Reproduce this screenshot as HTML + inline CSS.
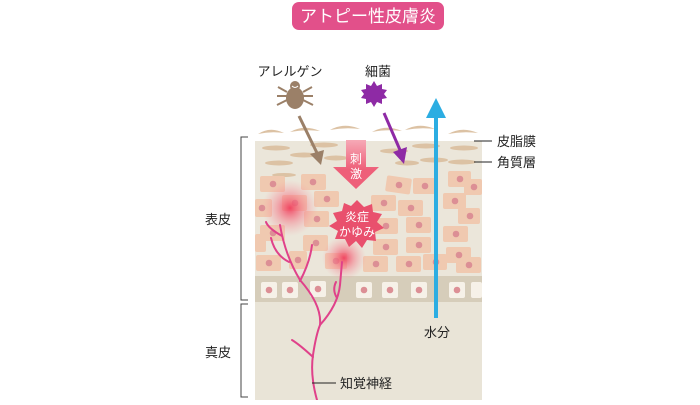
<!DOCTYPE html>
<html><head><meta charset="utf-8"><style>
body{margin:0;width:700px;height:400px;background:#fff;overflow:hidden;font-family:"Liberation Sans","Noto Sans CJK JP",sans-serif}
</style></head><body>
<svg width="700" height="400" viewBox="0 0 700 400" xmlns="http://www.w3.org/2000/svg" font-family="Liberation Sans, Noto Sans CJK JP, sans-serif">
<defs>
<radialGradient id="g"><stop offset="0" stop-color="#f0405e" stop-opacity="0.95"/><stop offset="0.5" stop-color="#f47a8a" stop-opacity="0.5"/><stop offset="1" stop-color="#f7a0aa" stop-opacity="0"/></radialGradient>
<linearGradient id="ar" x1="0" y1="0" x2="0" y2="1"><stop offset="0" stop-color="#f6a9b6"/><stop offset="0.6" stop-color="#ee5f79"/></linearGradient>
</defs>
<rect x="292" y="2" width="152" height="28" rx="7" fill="#e2508a"/>
<text x="368" y="22" font-size="17" fill="#fff" text-anchor="middle">アトピー性皮膚炎</text>
<rect x="255" y="141" width="227" height="135" fill="#ebe6da"/>
<rect x="255" y="276" width="227" height="26" fill="#d6cdba"/>
<rect x="255" y="302" width="227" height="98" fill="#e9e4d7"/>
<g fill="#dcc2a4">
<path d="M258 134 q12 -8 26 -1 q-13 -2 -26 1z"/><path d="M290 132 q14 -8 30 -1 q-15 -2 -30 1z"/><path d="M330 130 q14 -8 30 -1 q-15 -2 -30 1z"/><path d="M372 132 q14 -8 30 -1 q-15 -2 -30 1z"/><path d="M405 130 q14 -8 30 -1 q-15 -2 -30 1z"/><path d="M448 134 q14 -8 30 -1 q-15 -2 -30 1z"/>
<ellipse cx="276" cy="148" rx="14" ry="2.5"/><ellipse cx="304" cy="155" rx="14" ry="2.5"/><ellipse cx="279" cy="163" rx="14" ry="2.5"/><ellipse cx="324" cy="145" rx="14" ry="2.5"/><ellipse cx="394" cy="151" rx="14" ry="2.5"/><ellipse cx="426" cy="146" rx="14" ry="2.5"/><ellipse cx="434" cy="160" rx="14" ry="2.5"/><ellipse cx="464" cy="148" rx="14" ry="2.5"/><ellipse cx="462" cy="162" rx="14" ry="2.5"/><ellipse cx="284" cy="175" rx="12" ry="2"/><ellipse cx="336" cy="158" rx="12" ry="2.5"/><ellipse cx="407" cy="163" rx="12" ry="2.5"/>
</g>
<g fill="#f0c9b0">
<rect x="260" y="176" width="25" height="16" rx="2"/><rect x="301" y="174" width="25" height="16" rx="2"/><rect x="386" y="177" width="25" height="16" rx="2" transform="rotate(8 399 185)"/><rect x="413" y="178" width="24" height="16" rx="2"/><rect x="448" y="171" width="23" height="16" rx="2"/><rect x="464" y="179" width="18" height="16" rx="2"/>
<rect x="255" y="199" width="17" height="18" rx="2"/><rect x="282" y="195" width="25" height="16" rx="2"/><rect x="314" y="191" width="25" height="16" rx="2"/><rect x="371" y="195" width="25" height="16" rx="2"/><rect x="398" y="200" width="25" height="16" rx="2"/><rect x="443" y="193" width="23" height="16" rx="2"/><rect x="458" y="208" width="22" height="16" rx="2"/>
<rect x="260" y="225" width="25" height="16" rx="2"/><rect x="304" y="211" width="25" height="16" rx="2"/><rect x="373" y="218" width="25" height="16" rx="2"/><rect x="406" y="217" width="25" height="16" rx="2"/><rect x="443" y="226" width="25" height="16" rx="2"/>
<rect x="255" y="234" width="11" height="18" rx="2"/><rect x="303" y="235" width="25" height="16" rx="2"/><rect x="373" y="239" width="25" height="16" rx="2"/><rect x="406" y="237" width="25" height="16" rx="2"/><rect x="446" y="247" width="25" height="16" rx="2"/>
<rect x="256" y="255" width="25" height="16" rx="2"/><rect x="289" y="251" width="18" height="18" rx="2"/><rect x="325" y="253" width="22" height="16" rx="2"/><rect x="363" y="256" width="25" height="16" rx="2"/><rect x="396" y="256" width="25" height="16" rx="2"/><rect x="423" y="254" width="24" height="16" rx="2"/><rect x="456" y="257" width="25" height="16" rx="2"/>
</g>
<g fill="#dc8f95">
<circle cx="273" cy="184" r="3.3"/><circle cx="313" cy="182" r="3.3"/><circle cx="399" cy="185" r="3.3"/><circle cx="425" cy="186" r="3.3"/><circle cx="460" cy="179" r="3.3"/><circle cx="474" cy="187" r="3.3"/>
<circle cx="262" cy="208" r="3.3"/><circle cx="295" cy="203" r="3.3"/><circle cx="327" cy="199" r="3.3"/><circle cx="384" cy="203" r="3.3"/><circle cx="411" cy="208" r="3.3"/><circle cx="455" cy="201" r="3.3"/><circle cx="470" cy="216" r="3.3"/>
<circle cx="273" cy="233" r="3.3"/><circle cx="317" cy="219" r="3.3"/><circle cx="386" cy="226" r="3.3"/><circle cx="419" cy="225" r="3.3"/><circle cx="456" cy="234" r="3.3"/>
<circle cx="316" cy="243" r="3.3"/><circle cx="386" cy="247" r="3.3"/><circle cx="419" cy="245" r="3.3"/><circle cx="459" cy="255" r="3.3"/>
<circle cx="269" cy="263" r="3.3"/><circle cx="298" cy="260" r="3.3"/><circle cx="336" cy="261" r="3.3"/><circle cx="376" cy="264" r="3.3"/><circle cx="409" cy="264" r="3.3"/><circle cx="436" cy="262" r="3.3"/><circle cx="469" cy="265" r="3.3"/>
</g>
<g fill="#f6f1e8">
<rect x="261" y="282" width="16" height="16" rx="2"/><rect x="282" y="282" width="16" height="16" rx="2"/><rect x="310" y="281" width="16" height="16" rx="2"/><rect x="356" y="282" width="16" height="16" rx="2"/><rect x="382" y="282" width="16" height="16" rx="2"/><rect x="411" y="282" width="16" height="16" rx="2"/><rect x="449" y="282" width="16" height="16" rx="2"/><rect x="471" y="282" width="11" height="16" rx="2"/>
</g>
<g fill="#dc8f95"><circle cx="269" cy="290" r="3.3"/><circle cx="290" cy="290" r="3.3"/><circle cx="318" cy="289" r="3.3"/><circle cx="364" cy="290" r="3.3"/><circle cx="390" cy="290" r="3.3"/><circle cx="419" cy="290" r="3.3"/><circle cx="457" cy="290" r="3.3"/></g>
<circle cx="290" cy="208" r="28" fill="url(#g)"/>
<circle cx="344" cy="258" r="22" fill="url(#g)"/>
<g stroke="#e0418a" stroke-width="2" fill="none" stroke-linecap="round">
<path d="M317 400 Q310 375 313 355 Q316 335 320 325 Q322 305 300 280 Q285 255 280 225"/>
<path d="M313 357 Q300 345 292 340"/>
<path d="M320 325 Q338 305 340 285 L342 262"/>
<path d="M337 298 Q332 290 336 282"/>
<path d="M300 281 Q310 262 312 245"/>
<path d="M289 262 Q275 255 271 238"/>
<path d="M282 236 Q268 228 266 222"/>
</g>
<path d="M346 140 h20 v27 h13 l-23 22 l-23 -22 h13z" fill="url(#ar)"/>
<text x="356" y="163" font-size="12" fill="#fff" text-anchor="middle">刺</text>
<text x="356" y="178" font-size="12" fill="#fff" text-anchor="middle">激</text>
<polygon points="357,200 364,207 372,204 373,212 382,214 377,222 384,228 375,232 376,241 367,240 362,248 356,241 349,247 345,239 335,239 338,231 329,226 337,221 333,213 342,211 344,203 351,206" fill="#e9506d"/>
<text x="357" y="221" font-size="12" fill="#fff" text-anchor="middle">炎症</text>
<text x="357" y="236" font-size="12" fill="#fff" text-anchor="middle">かゆみ</text>
<text x="290" y="76" font-size="13" fill="#222" text-anchor="middle">アレルゲン</text>
<g stroke="#9b8068" stroke-width="2" fill="none">
<path d="M287 92 l-9 -5 M287 96 l-10 0 M287 100 l-10 5 M303 92 l9 -5 M303 96 l10 0 M303 100 l10 5"/>
</g>
<ellipse cx="295" cy="98" rx="9" ry="11" fill="#9b8068"/>
<circle cx="295" cy="86" r="5" fill="#9b8068"/>
<path d="M292 86 q3 3 6 0" stroke="#fff" fill="none"/>
<line x1="299" y1="116" x2="318" y2="155" stroke="#9b8068" stroke-width="3"/>
<polygon points="310,154 324,150 321,165" fill="#9b8068"/>
<text x="378" y="76" font-size="13" fill="#222" text-anchor="middle">細菌</text>
<polygon points="374,81 377,86 382,84 382,89 387,90 384,94 387,98 382,99 382,104 377,102 374,107 371,102 366,104 366,99 361,98 364,94 361,90 366,89 366,84 371,86" fill="#8e2aa5"/>
<line x1="384" y1="113" x2="400" y2="150" stroke="#8e2aa5" stroke-width="3"/>
<polygon points="393,152 407,147 404,164" fill="#8e2aa5"/>
<line x1="436" y1="112" x2="436" y2="318" stroke="#2cade2" stroke-width="4"/>
<polygon points="426,118 436,98 446,118" fill="#2cade2"/>
<text x="437" y="337" font-size="13" fill="#222" text-anchor="middle">水分</text>
<line x1="474" y1="141" x2="492" y2="141" stroke="#222"/>
<line x1="474" y1="162" x2="492" y2="162" stroke="#222"/>
<text x="497" y="146" font-size="13" fill="#222">皮脂膜</text>
<text x="497" y="167" font-size="13" fill="#222">角質層</text>
<line x1="312" y1="383" x2="336" y2="383" stroke="#222"/>
<text x="340" y="388" font-size="13" fill="#222">知覚神経</text>
<path d="M248 137 H241 V300 H248 M248 304 H241 V397 H248" stroke="#444" fill="none"/>
<text x="205" y="224" font-size="13" fill="#222">表皮</text>
<text x="205" y="357" font-size="13" fill="#222">真皮</text>
</svg>
</body></html>
